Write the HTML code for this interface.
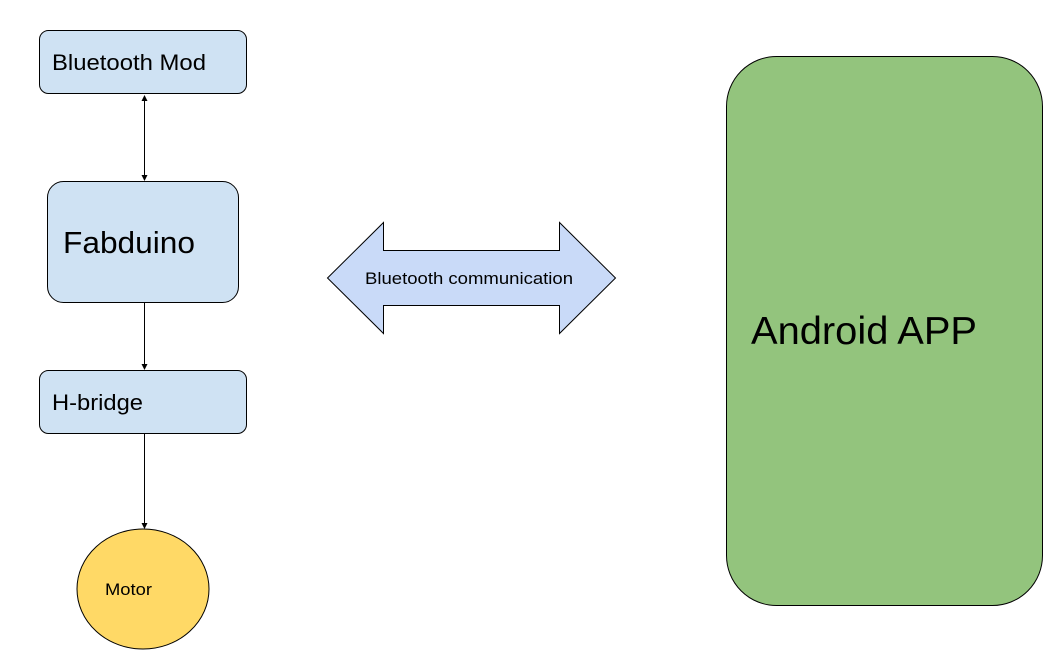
<!DOCTYPE html>
<html><head><meta charset="utf-8"><style>html,body{margin:0;padding:0;background:#fff}svg{display:block}</style></head>
<body>
<svg width="1060" height="658" viewBox="0 0 1060 658" xmlns="http://www.w3.org/2000/svg" font-family="Liberation Sans, Arial, sans-serif">
<defs>
<marker id="ah" markerWidth="6" markerHeight="6" refX="5" refY="3" orient="auto-start-reverse" markerUnits="userSpaceOnUse">
<path d="M0,0 L6,3 L0,6 z" fill="#000"/></marker>
</defs>
<rect x="39.5" y="30.5" width="207" height="63" rx="9" fill="#cfe2f3" stroke="#000"/>
<text x="52" y="70" font-size="22" textLength="154" lengthAdjust="spacingAndGlyphs">Bluetooth Mod</text>
<line x1="144.5" y1="96" x2="144.5" y2="180" stroke="#000" stroke-width="1" marker-start="url(#ah)" marker-end="url(#ah)"/>
<rect x="47.5" y="181.5" width="191" height="121" rx="16" fill="#cfe2f3" stroke="#000"/>
<text x="63" y="253" font-size="31" textLength="132" lengthAdjust="spacingAndGlyphs">Fabduino</text>
<line x1="144.5" y1="303" x2="144.5" y2="369" stroke="#000" marker-end="url(#ah)"/>
<rect x="39.5" y="370.5" width="207" height="63" rx="9" fill="#cfe2f3" stroke="#000"/>
<text x="52" y="410" font-size="22" textLength="91" lengthAdjust="spacingAndGlyphs">H-bridge</text>
<line x1="144.5" y1="434" x2="144.5" y2="528" stroke="#000" marker-end="url(#ah)"/>
<ellipse cx="143" cy="589" rx="66" ry="60" fill="#ffd966" stroke="#000"/>
<text x="105" y="595" font-size="17" textLength="47" lengthAdjust="spacingAndGlyphs">Motor</text>
<polygon points="327.5,278 383.5,222.5 383.5,250.5 559.5,250.5 559.5,222.5 615.5,278 559.5,333.5 559.5,305.5 383.5,305.5 383.5,333.5" fill="#c9daf8" stroke="#000"/>
<text x="365" y="284" font-size="17" textLength="208" lengthAdjust="spacingAndGlyphs">Bluetooth communication</text>
<rect x="726.5" y="56.5" width="316" height="549" rx="50" fill="#93c47d" stroke="#000"/>
<text x="751" y="344" font-size="39" textLength="226" lengthAdjust="spacingAndGlyphs">Android APP</text>
</svg>
</body></html>
